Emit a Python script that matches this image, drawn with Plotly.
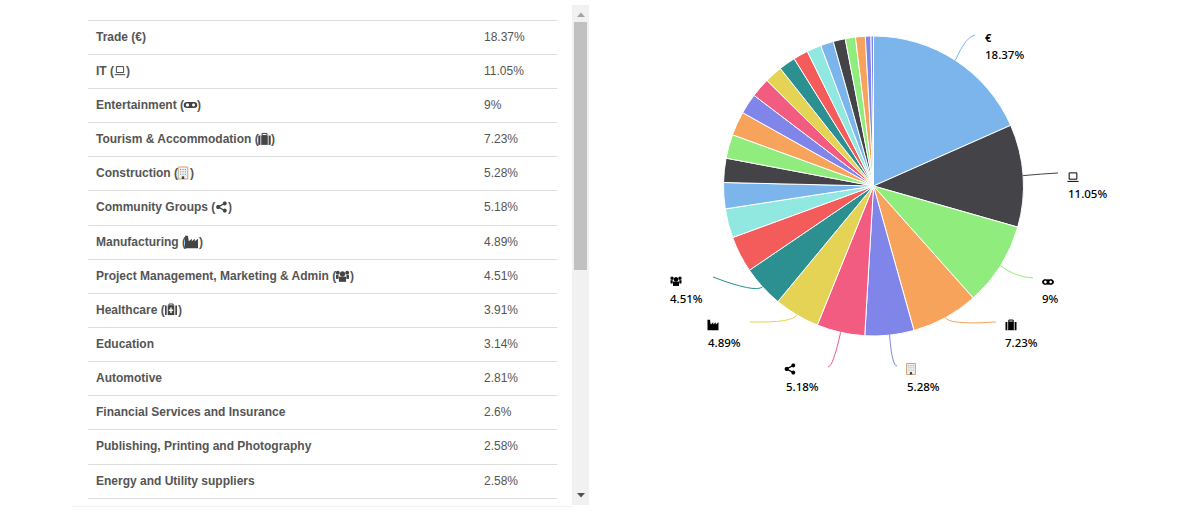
import math
import plotly.graph_objects as go

# ---------- data ----------
categories = ["Trade", "IT", "Entertainment", "Tourism & Accommodation", "Construction",
              "Community Groups", "Manufacturing", "Project Management, Marketing & Admin",
              "Healthcare", "Education", "Automotive", "Financial Services and Insurance",
              "Publishing, Printing and Photography", "Energy and Utility suppliers",
              "Sector 15", "Sector 16", "Sector 17", "Sector 18", "Sector 19", "Sector 20",
              "Sector 21", "Sector 22", "Sector 23", "Sector 24", "Sector 25", "Sector 26"]
values = [18.37, 11.05, 9, 7.23, 5.28, 5.18, 4.89, 4.51, 3.91, 3.14, 2.81, 2.6, 2.58, 2.58,
          2.2, 2.1, 1.9, 1.8, 1.6, 1.55, 1.4, 1.3, 1.1, 1.05, 0.6, 0.27]
palette = ["#7cb5ec", "#434348", "#90ed7d", "#f7a35c", "#8085e9",
           "#f15c80", "#e4d354", "#2b908f", "#f45b5b", "#91e8e1"]
row_icons = ["euro", "laptop", "mask", "case", "building", "share", "factory", "users", "medkit"]

W, H = 1200, 515
CX, CY, R = 873.5, 186, 150
fx = lambda x: x / W
fy = lambda y: 1 - y / H
shapes, notes = [], []


def pt(x, y):
    return f"{fx(x):.5f},{fy(y):.5f}"


def poly(points, fill=None, line=None, width=1, close=True):
    d = "M" + " L".join(pt(x, y) for x, y in points) + (" Z" if close else "")
    shapes.append(dict(type="path", xref="paper", yref="paper", path=d, fillcolor=fill or "rgba(0,0,0,0)",
                       line=dict(color=line or "rgba(0,0,0,0)", width=width if line else 0), layer="above"))


def rect(x0, y0, x1, y1, fill=None, line=None, width=1, layer="above"):
    shapes.append(dict(type="rect", xref="paper", yref="paper", x0=fx(x0), x1=fx(x1), y0=fy(y0), y1=fy(y1),
                       fillcolor=fill or "rgba(0,0,0,0)",
                       line=dict(color=line or "rgba(0,0,0,0)", width=width if line else 0), layer=layer))


def text(x, y, s, size=12, color="#555555", family="Liberation Sans", weight=400):
    notes.append(dict(x=fx(x), y=fy(y), xref="paper", yref="paper", text=s, showarrow=False,
                      xanchor="left", yanchor="middle", borderpad=0, borderwidth=0,
                      font=dict(size=size, color=color, family=family, weight=weight)))


def icon(kind, cx, cy, s, color):
    u = lambda a, b: (cx + a * s, cy + b * s)

    def circ(a, b, r, fill):
        poly([u(a + r * math.cos(t * math.pi / 8), b + r * math.sin(t * math.pi / 8)) for t in range(16)], fill=fill)

    def box(a0, b0, a1, b1, fill=None, line=None, width=1):
        poly([u(a0, b0), u(a1, b0), u(a1, b1), u(a0, b1)], fill=fill, line=line, width=width)

    if kind == "laptop":
        box(-.7, -.75, .7, .4, line=color)
        poly([u(-1, .8), u(1, .8)], line=color, close=False)
    elif kind == "mask":
        box(-.6, -.48, .6, .48, fill=color)
        circ(-.6, 0, .48, color)
        circ(.6, 0, .48, color)
        circ(-.48, 0, .26, "white")
        circ(.48, 0, .24, "white")
    elif kind == "case":
        box(-1, -.55, 1, .95, fill=color)
        box(-.4, -.9, .4, -.55, line=color)
        poly([u(-.6, -.55), u(-.6, .95)], line="white", close=False, width=.8)
        poly([u(.6, -.55), u(.6, .95)], line="white", close=False, width=.8)
    elif kind == "building":
        box(-.8, -1, .8, 1, fill="#eef2f6", line="#d6a06e")
        for a in (-.4, 0, .4):
            for b in (-.6, -.2, .2):
                box(a - .1, b - .08, a + .1, b + .08, fill="#8a96a3")
        box(-.2, .55, .2, 1, fill="#444444")
    elif kind == "share":
        poly([u(.6, -.65), u(-.6, 0), u(.6, .65)], line=color, close=False, width=1.3)
        circ(.6, -.65, .36, color)
        circ(-.6, 0, .38, color)
        circ(.6, .65, .36, color)
    elif kind == "factory":
        poly([u(-1, .95), u(-1, -.95), u(-.55, -.95), u(-.42, -.1), u(.05, -.5), u(.05, -.1),
              u(.5, -.5), u(.5, -.1), u(1, -.5), u(1, .95)], fill=color)
    elif kind == "users":
        circ(0, -.3, .42, color)
        circ(-.72, -.5, .3, color)
        circ(.72, -.5, .3, color)
        box(-.55, .1, .55, .9, fill=color)
        box(-1, -.15, -.6, .45, fill=color)
        box(.6, -.15, 1, .45, fill=color)
    elif kind == "medkit":
        box(-.55, -.75, .55, .85, fill=color)
        box(-.35, -1, .35, -.7, line=color)
        box(-1, -.75, -.72, .85, fill=color)
        box(.72, -.75, 1, .85, fill=color)
        box(-.12, -.4, .12, .5, fill="white")
        box(-.36, -.07, .36, .17, fill="white")


# ---------- table ----------
rule_y = [20, 54, 88, 122, 156, 190, 225, 259, 293, 327, 361, 395, 429, 464, 498]
icon_box = {"laptop": (120, 70.5, 5.2), "mask": (190.5, 105, 6.3), "case": (264.5, 139, 6.2), "building": (183, 173, 6),
            "share": (221.5, 207, 5.5), "factory": (191.5, 242, 6.5), "users": (342.5, 276, 6.5), "medkit": (171, 310, 6)}
for y in rule_y:
    rect(88, y, 557, y + 1, fill="#dddddd", layer="below")
rect(72, 506, 572, 507, fill="#f2f2f2", layer="below")
for i in range(len(rule_y) - 1):
    name = categories[i]
    y = math.floor((rule_y[i] + rule_y[i + 1]) / 2)
    kind = row_icons[i] if i < len(row_icons) else None
    if kind == "euro":
        text(96, y, f"<b>{name} (€)</b>")
    elif kind:
        text(96, y, f"<b>{name} (</b>")
        cx, cy, s = icon_box[kind]
        icon(kind, cx, cy, s, "#444444")
        text(cx + s + .5, y, "<b>)</b>")
    else:
        text(96, y, f"<b>{name}</b>")
    text(484, y, f"{values[i]:g}%")

# ---------- scrollbar ----------
rect(572, 5, 589, 505, fill="#f1f1f1", layer="below")
rect(574, 22, 587, 270, fill="#c1c1c1", layer="below")
poly([(577, 17), (585, 17), (581, 12.5)], fill="#a3a3a3")
poly([(577, 493), (585, 493), (581, 497.5)], fill="#505050")

# ---------- pie labels: connector elbow, connector end, text left, icon centre ----------
callouts = [
    (None, (966, 36), (975, 35), 985, 55, (988, 37)),
    ("laptop", (1040, 174), (1058, 173), 1068, 194, (1073, 177)),
    ("mask", (1015, 277), (1033, 278), 1042, 298, (1048, 282)),
    ("case", (949, 325), (996, 322), 1005, 342, (1011, 325)),
    ("building", (892, 366), (897, 366), 907, 386, (911, 369)),
    ("share", (833, 367), (828, 367), 786, 386, (790, 369)),
    ("factory", (793, 323), (750, 322), 708, 342, (713, 325)),
    ("users", (755, 293), (713, 277), 670, 298, (676, 281)),
]
cum = 0
for i, (kind, elbow, end, tx, ty, ic) in enumerate(callouts):
    a = (cum + values[i] / 2) / sum(values) * 2 * math.pi
    cum += values[i]
    ex, ey = CX + R * math.sin(a), CY - R * math.cos(a)
    d = f"M{pt(ex, ey)} Q{pt(*elbow)} {pt(*end)}"
    shapes.append(dict(type="path", xref="paper", yref="paper", path=d,
                       line=dict(color=palette[i % 10], width=1), layer="above"))
    text(tx, ty, f"{values[i]:g}%", size=11.5, color="#000000", family="Noto Sans", weight=500)
    if kind:
        icon(kind, ic[0], ic[1], 5.5, "#000000")
    else:
        text(ic[0] - 3.5, ic[1], "€", size=11, color="#000000", family="Noto Sans", weight=700)

colors = [palette[i % 10] for i in range(len(values))]
colors[-1] = palette[4]
fig = go.Figure(go.Pie(labels=categories, values=values, sort=False, direction="clockwise", rotation=0,
                       textinfo="none", hoverinfo="label+percent", showlegend=False,
                       marker=dict(colors=colors, line=dict(color="white", width=1)),
                       domain=dict(x=[(CX - R) / W, (CX + R) / W], y=[1 - (CY + R) / H, 1 - (CY - R) / H])))
fig.update_layout(width=W, height=H, margin=dict(l=0, r=0, t=0, b=0), paper_bgcolor="white",
                  shapes=shapes, annotations=notes)
fig.write_html("out.html", post_script="document.body.style.margin='0';document.body.style.overflow='hidden';",
               config=dict(displayModeBar=False))
